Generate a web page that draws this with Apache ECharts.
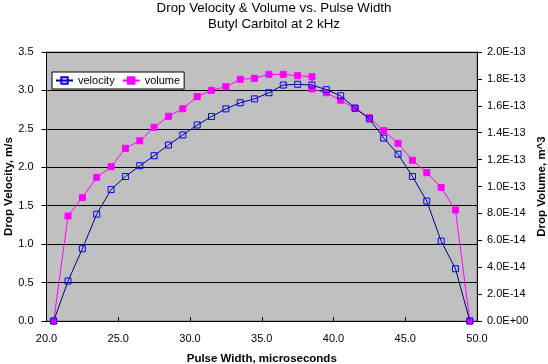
<!DOCTYPE html>
<html>
<head>
<meta charset="utf-8">
<script src="https://cdn.jsdelivr.net/npm/echarts@6/dist/echarts.min.js"></script>
<style>html,body{margin:0;padding:0;background:#fff}#c{width:548px;height:364px}</style>
</head>
<body>
<div id="c"></div>
<script>
// Pulse width (microseconds) and measured values
const velX = [20.5,21.5,22.5,23.5,24.5,25.5,26.5,27.5,28.5,29.5,30.5,31.5,32.5,33.5,34.5,35.5,36.5,37.5,38.5,39.5,40.5,41.5,42.5,43.5,44.5,45.5,46.5,47.5,48.5,49.5];
const velY = [0,0.52,0.94,1.39,1.71,1.88,2.02,2.15,2.29,2.42,2.55,2.66,2.76,2.84,2.89,2.97,3.07,3.08,3.07,3.01,2.93,2.77,2.63,2.38,2.17,1.88,1.56,1.04,0.68,0];
const volX = [20.5,21.5,22.5,23.5,24.5,25.5,26.5,27.5,28.5,29.5,30.5,31.5,32.5,33.5,34.5,35.5,36.5,37.5,38.5,38.5,39.5,40.5,41.5,42.5,43.5,44.5,45.5,46.5,47.5,48.5,49.5];
const volY = [0,7.81e-14,9.17e-14,1.068e-13,1.147e-13,1.284e-13,1.340e-13,1.440e-13,1.522e-13,1.578e-13,1.668e-13,1.715e-13,1.742e-13,1.797e-13,1.804e-13,1.834e-13,1.834e-13,1.824e-13,1.816e-13,1.725e-13,1.697e-13,1.641e-13,1.581e-13,1.512e-13,1.415e-13,1.321e-13,1.195e-13,1.103e-13,9.93e-14,8.25e-14,0];
const titleText = 'Drop Velocity & Volume vs. Pulse Width';
const subtitleText = 'Butyl Carbitol at 2 kHz';
const xName = 'Pulse Width, microseconds';
const yLeftName = 'Drop Velocity, m/s';
const yRightName = 'Drop Volume, m^3';

const FONT = '"Liberation Sans", Arial, sans-serif';
function expFmt(v){
  if (v === 0) return '0.0E+00';
  let s = Number(v).toExponential(1).toUpperCase();
  return s.replace(/E([+-])(\d)$/, 'E$10$2');
}
const chart = echarts.init(document.getElementById('c'), null, {renderer:'canvas'});
chart.setOption({
  backgroundColor:'#fff',
  animation:false,
  title:[
    {text:titleText, left:'center', top:-3, textStyle:{fontFamily:FONT, fontSize:13.33, fontWeight:'normal', color:'#000'}},
    {text:subtitleText, left:'center', top:13, textStyle:{fontFamily:FONT, fontSize:13.33, fontWeight:'normal', color:'#000'}}
  ],
  legend:{
    left:52, top:72, orient:'horizontal',
    backgroundColor:'#fff', borderColor:'#000', borderWidth:1, borderRadius:0,
    padding:[3,4,3,3], itemGap:7, itemWidth:17, itemHeight:8,
    textStyle:{fontFamily:FONT, fontSize:11, color:'#000'},
    data:['velocity','volume']
  },
  grid:{left:46.5, right:71, top:52, bottom:43, containLabel:false, outerBoundsMode:'none',
        show:true, backgroundColor:'#C0C0C0', borderColor:'#808080', borderWidth:1},
  xAxis:{
    type:'value', min:20, max:50, interval:5,
    name:xName, nameLocation:'middle', nameGap:32, nameMoveOverlap:false,
    nameTextStyle:{fontFamily:FONT, fontSize:11.5, fontWeight:'bold', color:'#000'},
    axisLine:{lineStyle:{color:'#000', width:1}},
    axisTick:{inside:true, length:4, lineStyle:{color:'#000'}},
    axisLabel:{fontFamily:FONT, fontSize:11, color:'#000', margin:12, formatter:v=>v.toFixed(1)},
    splitLine:{show:false}
  },
  yAxis:[
    {
      type:'value', min:0, max:3.5, interval:0.5, position:'left',
      name:yLeftName, nameLocation:'middle', nameGap:32, nameRotate:90, nameMoveOverlap:false,
      nameTextStyle:{fontFamily:FONT, fontSize:11.5, fontWeight:'bold', color:'#000'},
      axisLine:{show:true, lineStyle:{color:'#000', width:1}},
      axisTick:{show:true, length:5, lineStyle:{color:'#000'}},
      axisLabel:{fontFamily:FONT, fontSize:11, color:'#000', margin:13, formatter:v=>v.toFixed(1)},
      splitLine:{show:true, lineStyle:{color:'#000', width:1}}
    },
    {
      type:'value', min:0, max:2e-13, interval:2e-14, position:'right',
      name:yRightName, nameLocation:'middle', nameGap:59, nameRotate:90, nameMoveOverlap:false,
      nameTextStyle:{fontFamily:FONT, fontSize:11.5, fontWeight:'bold', color:'#000'},
      axisLine:{show:true, lineStyle:{color:'#000', width:1}},
      axisTick:{show:true, length:5, lineStyle:{color:'#000'}},
      axisLabel:{fontFamily:FONT, fontSize:11, color:'#000', margin:10, formatter:expFmt},
      splitLine:{show:false}
    }
  ],
  series:[
    {
      name:'velocity', type:'line', yAxisIndex:0,
      data:velX.map((x,i)=>[x,velY[i]]),
      symbol:'rect', symbolSize:6,
      lineStyle:{color:'#000080', width:1},
      itemStyle:{color:'rgba(0,0,0,0)', borderColor:'#0000FF', borderWidth:1},
      emphasis:{disabled:true}, z:3
    },
    {
      name:'volume', type:'line', yAxisIndex:1,
      data:volX.map((x,i)=>[x,volY[i]]),
      symbol:'rect', symbolSize:6,
      lineStyle:{color:'#FF00FF', width:1},
      itemStyle:{color:'#FF00FF', borderColor:'#FF00FF', borderWidth:1},
      emphasis:{disabled:true}, z:2
    }
  ]
});
</script>
</body>
</html>
